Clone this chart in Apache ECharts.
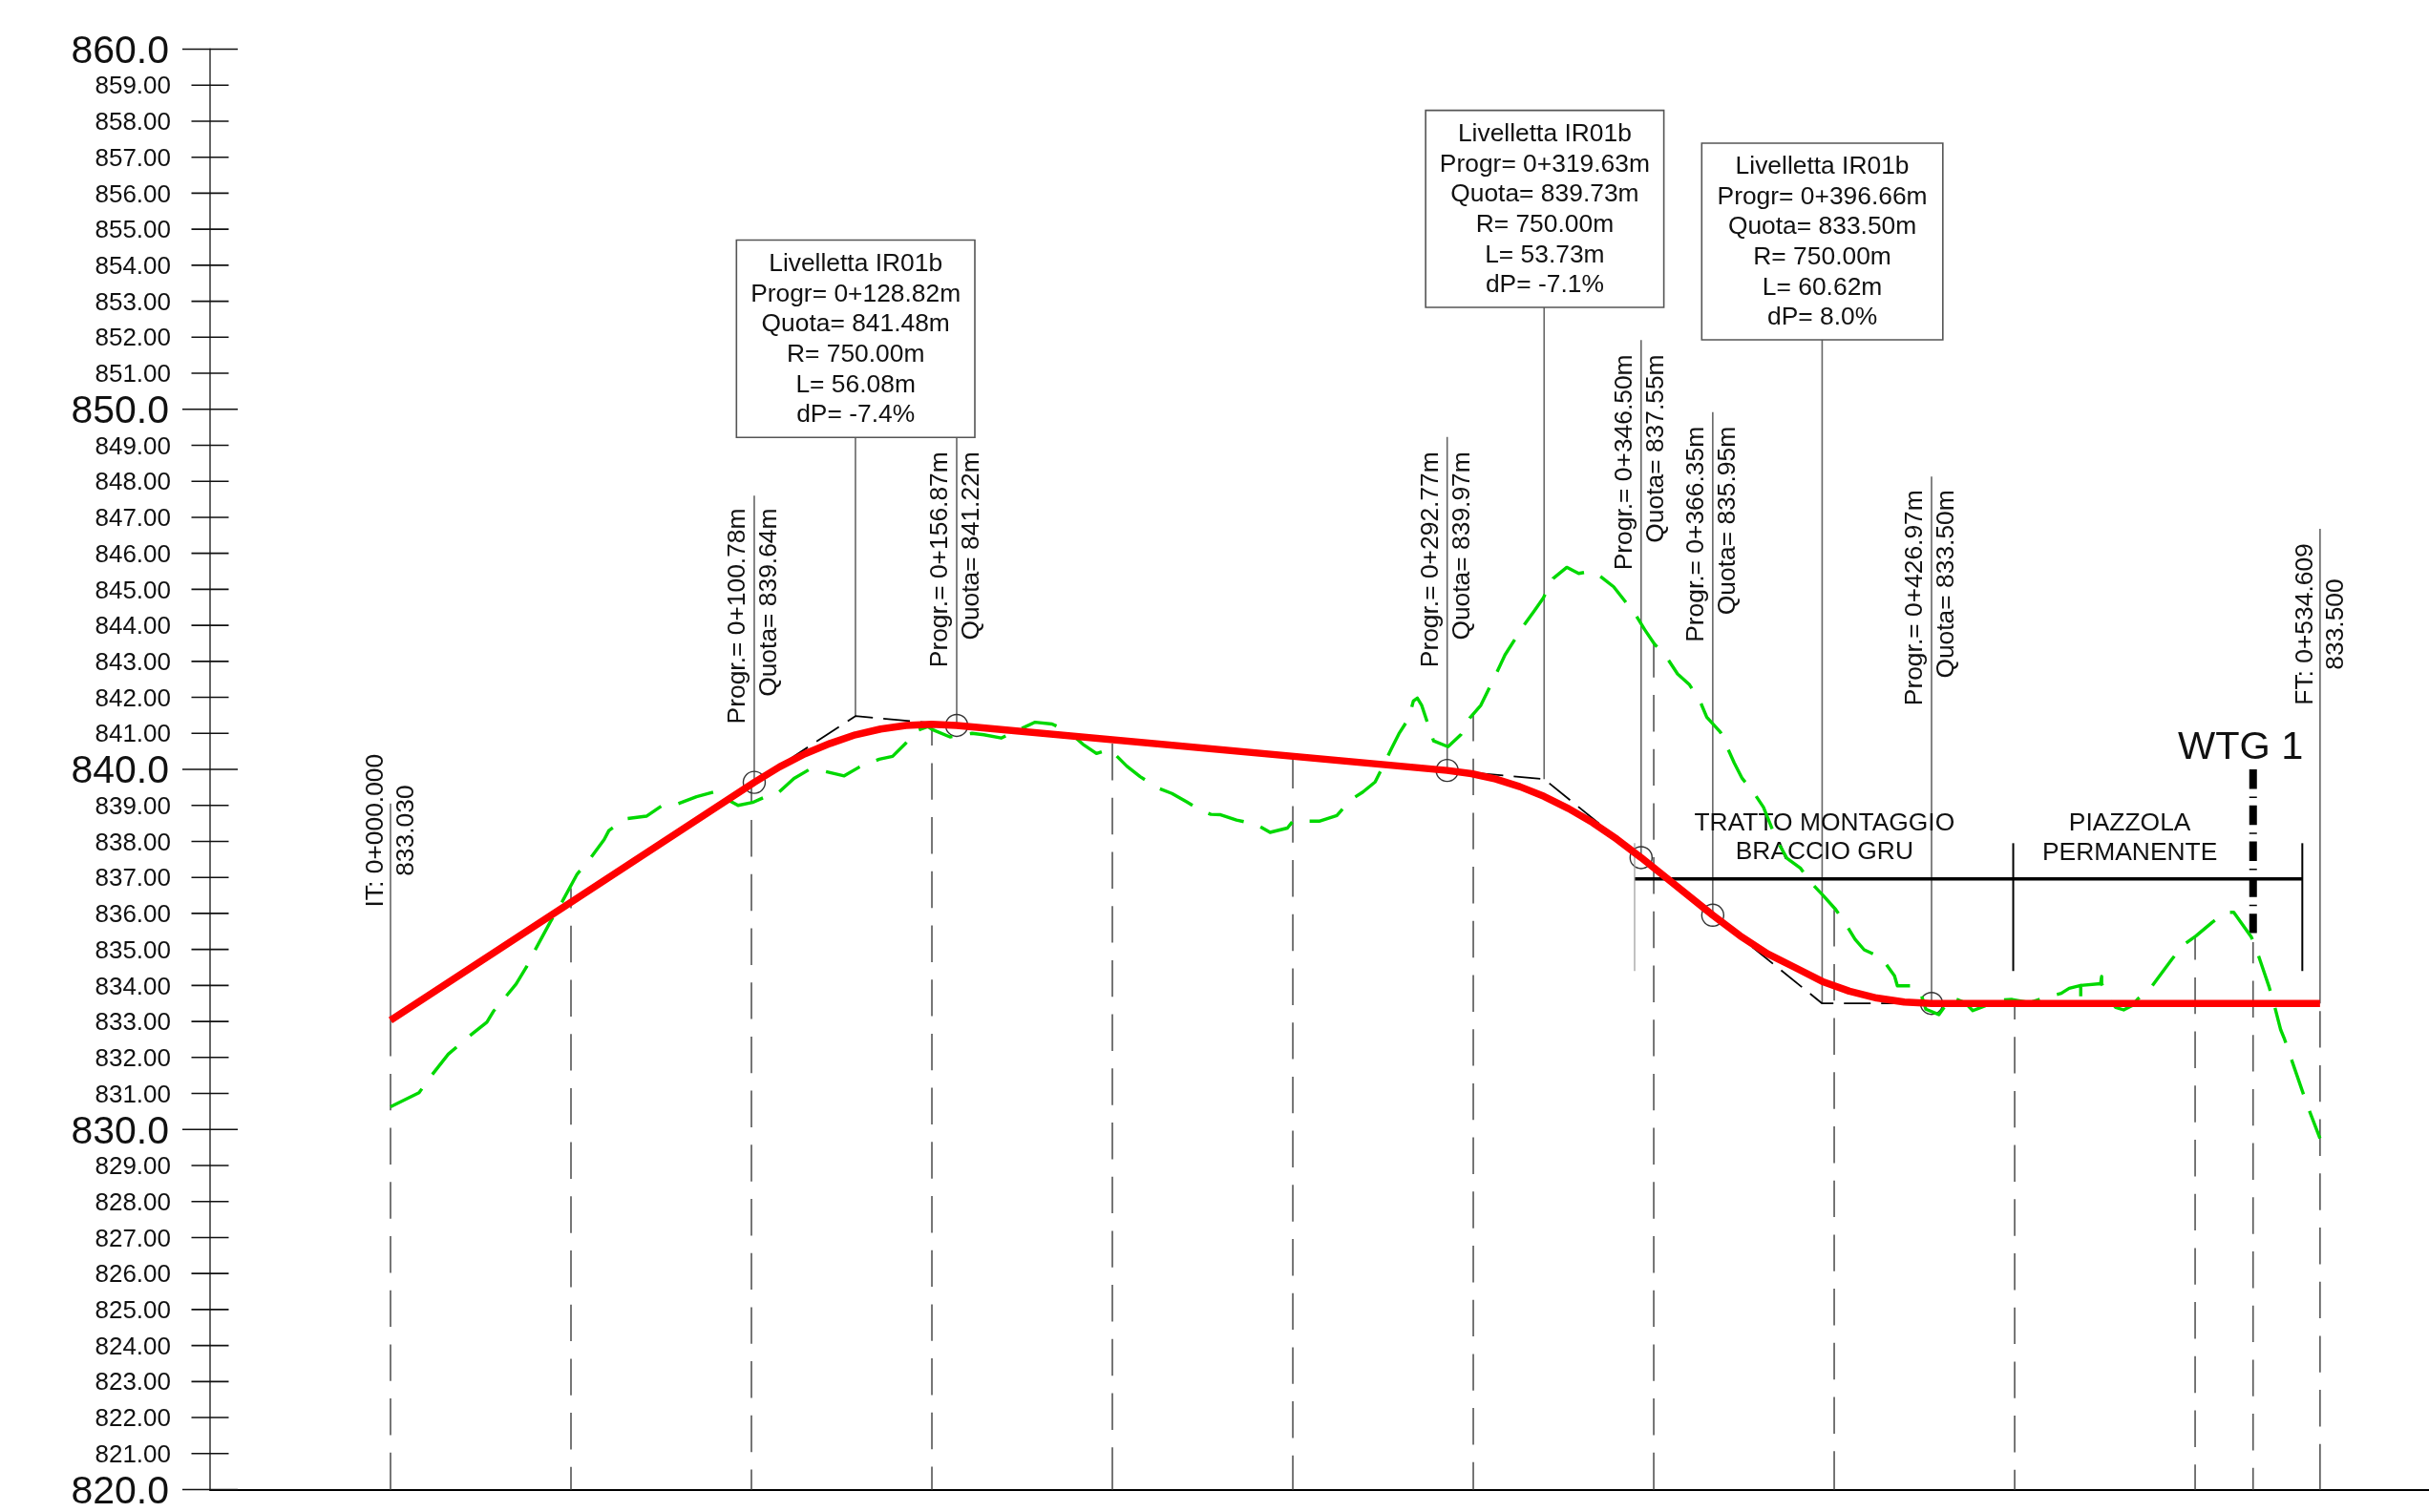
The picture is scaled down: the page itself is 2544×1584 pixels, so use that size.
<!DOCTYPE html>
<html>
<head>
<meta charset="utf-8">
<style>html,body{margin:0;padding:0;background:#fff}#c{width:2544px;height:1584px}</style>
<script src="https://cdn.jsdelivr.net/npm/echarts@6/dist/echarts.min.js"></script>
</head>
<body>
<div id="c"></div>
<script>
// ---- values ----
const groundStations = [0,7.9,11.2,16,21.3,26.7,28.5,32.1,34.8,37.6,39.6,44.3,47,51.7,55.1,59.2,60.5,65.2,70.9,75.3,78.7,84.8,89.5,92.8,96.3,100.3,103.7,107.1,111.8,116.1,120.6,125.7,130,135.4,139.1,142.8,145.5,148.9,150,155,161.1,164.4,169.2,173.9,178.6,183.3,188,191.8,195.6,198.9,200,204,207.7,212.4,216.5,220.7,224.7,227.3,230,234.4,239.7,243.7,248.5,250,253.4,257.3,262.2,266.1,269.4,272.8,275,277.2,279.4,282.1,283.4,284.5,285.7,289,293,296.6,299,302.1,306.7,308.8,314,316.9,319.4,322.1,325.9,329.2,332.4,334.7,338.9,345,347.5,350.2,353.9,356.6,359.9,362.8,364.7,368.5,370.2,372.3,374.5,377.6,380.4,384,386.9,390.7,393.4,397,400.4,403.1,405.8,408.3,412.4,413.8,416.7,417.5,422.5,424,425.4,429,432.5,436.3,438.4,441.7,443.5,449.3,454.2,458.5,462.9,465.1,468.3,468.3,468.3,473.8,474.1,474.1,475.9,478,480.2,482.4,484,487.9,493.6,496.6,500.2,504.7,508.5,510.7,515.6,517.2,520.5,522.1,523.7,524.8,526.4,529.7,531.3,534.6];
const groundElevations = [830.63,831.02,831.48,832.09,832.55,832.98,833.28,833.71,834.04,834.5,834.9,835.77,836.22,837.09,837.49,838.05,838.3,838.63,838.7,839,839.01,839.24,839.37,839.19,839,839.08,839.23,839.32,839.75,840,839.94,839.82,840.07,840.28,840.36,840.73,841.06,841.19,841.11,840.9,841,840.96,840.87,841.09,841.31,841.26,841.04,840.7,840.44,840.55,840.49,840.09,839.8,839.49,839.33,839.09,838.85,838.75,838.74,838.59,838.48,838.25,838.37,838.56,838.56,838.56,838.72,839.16,839.37,839.65,840.09,840.55,840.99,841.41,841.9,841.98,841.78,840.79,840.63,840.97,841.42,841.78,842.73,843.18,844,844.4,844.76,845.3,845.61,845.44,845.5,845.4,845.07,844.29,843.88,843.48,843.06,842.65,842.35,841.9,841.45,841.03,840.65,840.18,839.75,839.37,838.95,838.05,837.53,837.25,836.87,836.49,836.11,835.72,835.28,834.99,834.8,834.67,834.27,833.99,833.99,833.78,833.34,833.19,833.67,833.52,833.3,833.43,833.58,833.61,833.52,833.67,833.78,833.92,834,833.6,834,834.05,834.25,834.05,833.65,833.39,833.32,833.43,833.61,833.96,834.73,835.11,835.37,835.75,836.03,836.03,835.34,834.93,833.96,833.39,832.77,832.5,832.03,831.07,830.61,829.75];

const designStations = [0,100.78,107.8,114.8,121.8,128.8,135.8,142.8,149.9,156.87,292.77,299.5,306.2,312.9,319.6,326.4,333.1,339.8,346.5,366.35,373.9,381.5,389.1,396.7,404.2,411.8,419.4,426.97,534.609];
const designElevations = [833.03,839.64,840.07,840.43,840.72,840.96,841.12,841.22,841.25,841.22,839.97,839.88,839.73,839.52,839.25,838.91,838.52,838.06,837.55,835.95,835.38,834.88,834.5,834.11,833.84,833.65,833.54,833.5,833.5];

const tangentStations = [100.78,128.82,156.87,292.77,319.63,346.5,366.35,396.66,426.97];
const tangentElevations = [839.64,841.48,841.22,839.97,839.73,837.55,835.95,833.5,833.5];

const pointStations = [100.78,156.87,292.77,346.5,366.35,426.97];
const pointQuotas = [839.64,841.22,839.97,837.55,835.95,833.5];

const calloutStations = [128.82,319.63,396.66];
const calloutQuotas = [841.48,839.73,833.5];
const calloutRadii = [750,750,750];
const calloutLengths = [56.08,53.73,60.62];
const calloutSlopes = ['-7.4%','-7.1%','8.0%'];

const startLabels = ['IT: 0+000.000','833.030'];
const endLabels = ['FT: 0+534.609','833.500'];
const startStation = 0, startElevation = 833.03;
const endStation = 534.609, endElevation = 833.5;

const gridStations = [0,50,100,150,200,250,300,350,400,450,500,516.06,534.609];
const gridTops = [833.03,836.7,839.64,841.2,840.76,840.3,841.5,843.48,836.11,833.6,835.37,835.2,833.5];

// ---- layout (separate from the values) ----
const gridFirstDash = [38.7,23.7,21,24,44.3,35.7,28.7,38.7,40.3,20.7,26.3,22.7,47.7];
const pointLeaderTops = [847.6,849.22,849.23,851.92,849.92,848.13];
const pointTextTops = [847.25,848.82,848.82,851.52,849.52,847.76];
const calloutLeaderTops = [849.22,852.83,851.93];
const calloutLeft = [95.85,286.8,363.3], calloutRight = [161.9,352.8,430.1];
const calloutTop = [854.7,858.3,857.39], calloutBottom = [849.22,852.83,851.93];
const startLeaderTop = 839.05, endLeaderTop = 846.68;
const startTextCenter = 838.3, endTextCenter = 844.03;

const sectionLine = {from:344.7, to:529.7, elevation:836.96};
const sectionTicks = [344.7,449.6,529.7];
const sectionTickTop = 837.95, sectionTickBottom = 834.4;
const sectionTexts = [
  {lines:['TRATTO MONTAGGIO','BRACCIO GRU'], station:397.3, elevations:[838.55,837.75]},
  {lines:['PIAZZOLA','PERMANENTE'], station:481.9, elevations:[838.55,837.72]}
];
const wtgLabel = 'WTG 1';
const wtgStation = 516.06, wtgTop = 840.0, wtgBottom = 835.44;
const wtgLabelStation = 512.6, wtgLabelElevation = 840.66;

const tickValues = [];
for (let v = 820; v <= 860; v++) tickValues.push(v);

const FONT = '"Liberation Sans", Arial, sans-serif';
const INK = '#111';
const TEXT_SIZE = 26.4;
const idx = a => a.map((_, i) => i);

function txt(x, y, text, size, extra) {
  const rotated = extra && extra.rotation;
  return Object.assign({
    type:'text', x: rotated ? x+1 : x, y: rotated ? y : y+2,
    style:{text, fontSize:size, fontFamily:FONT, fill:INK,
      align:(extra&&extra.align)||'center', verticalAlign:'middle'}
  }, rotated?{rotation:extra.rotation}:{});
}
function seg(a, b, style) {
  return {type:'line', shape:{x1:a[0],y1:a[1],x2:b[0],y2:b[1]}, style:Object.assign({fill:null},style)};
}
const GRAY = {stroke:'#666', lineWidth:1.6};

function custom(data, renderItem, z) {
  return {type:'custom', data, renderItem, z, clip:false, silent:true, animation:false};
}
const dashFor = L => { const d=[L,18.3]; for(let i=0;i<40;i++){d.push(38.4,18.3);} return d; };

const chart = echarts.init(document.getElementById('c'), null, {renderer:'canvas', width:2544, height:1584});
chart.setOption({
  animation:false,
  backgroundColor:'#fff',
  grid:{left:220, top:51.5, right:0, height:1512.2, containLabel:false},
  xAxis:{type:'value', min:-50, max:564.8, interval:50,
    axisLine:{show:true, onZero:false, lineStyle:{color:'#000', width:2}},
    axisTick:{show:false}, axisLabel:{show:false}, splitLine:{show:false}},
  yAxis:{type:'value', min:820, max:860, interval:1,
    axisLine:{show:true, onZero:false, lineStyle:{color:'#666', width:2}},
    axisTick:{show:false}, splitLine:{show:false},
    axisLabel:{margin:41, hideOverlap:false, showMinLabel:true, showMaxLabel:true,
      formatter:v => v%10===0 ? '{maj|'+v.toFixed(1)+'}' : '{min|'+v.toFixed(2)+'}',
      rich:{maj:{fontSize:41, fontFamily:FONT, color:INK, padding:[6,2,0,0]},
            min:{fontSize:26, fontFamily:FONT, color:INK, padding:[4,0,0,0]}}}},
  series:[
    // axis ticks crossing the axis line
    custom(tickValues, (p, api) => {
      const v = tickValues[p.dataIndex], c = api.coord([-50, v]), maj = v%10===0;
      return seg([c[0]-(maj?29:19.5),c[1]], [c[0]+(maj?29:19.5),c[1]], {stroke:'#111', lineWidth:1.6});
    }, 3),
    // dashed station verticals, phase
    custom(idx(gridStations), (p, api) => {
      const i = p.dataIndex, a = api.coord([gridStations[i],820]), b = api.coord([gridStations[i],gridTops[i]]);
      return seg(a, b, {stroke:'#555', lineWidth:1.6, lineDash:dashFor(gridFirstDash[i])});
    }, 2),
    // solid leaders
    custom(idx(pointStations), (p, api) => {
      const i = p.dataIndex;
      return seg(api.coord([pointStations[i],pointQuotas[i]]), api.coord([pointStations[i],pointLeaderTops[i]]), GRAY);
    }, 2),
    custom(idx(calloutStations), (p, api) => {
      const i = p.dataIndex;
      return seg(api.coord([calloutStations[i],calloutQuotas[i]]), api.coord([calloutStations[i],calloutLeaderTops[i]]), GRAY);
    }, 2),
    custom([0,1], (p, api) => {
      return p.dataIndex===0
        ? seg(api.coord([startStation,startElevation]), api.coord([startStation,startLeaderTop]), GRAY)
        : seg(api.coord([endStation,endElevation]), api.coord([endStation,endLeaderTop]), GRAY);
    }, 2),
    // circles on the tangent points
    custom(idx(pointStations), (p, api) => {
      const i = p.dataIndex, c = api.coord([pointStations[i],pointQuotas[i]]);
      return {type:'circle', shape:{cx:c[0],cy:c[1],r:11.5}, style:{fill:null, stroke:'#333', lineWidth:1.4}};
    }, 2),
    // section line
    custom([0], (p, api) => seg(api.coord([sectionLine.from,sectionLine.elevation]), api.coord([sectionLine.to,sectionLine.elevation]), {stroke:'#000', lineWidth:3.5}), 3),
    custom(idx(sectionTicks), (p, api) => {
      const i = p.dataIndex;
      return seg(api.coord([sectionTicks[i],sectionTickTop]), api.coord([sectionTicks[i],sectionTickBottom]),
        i===0 ? {stroke:'#999', lineWidth:1.2} : {stroke:'#000', lineWidth:2});
    }, 3),
    // turbine axis
    custom([0], (p, api) => seg(api.coord([wtgStation,wtgTop]), api.coord([wtgStation,wtgBottom]),
      {stroke:'#000', lineWidth:8, lineDash:[20.4,8,1.5,7.9]}), 3),
    // tangent polyline
    {type:'line', data:tangentStations.map((s,i)=>[s,tangentElevations[i]]), showSymbol:false, z:4, silent:true,
      lineStyle:{color:'#000', width:1.8, type:[28,11]}},
    // ground
    {type:'line', data:groundStations.map((s,i)=>[s,groundElevations[i]]), showSymbol:false, z:5, silent:true,
      lineStyle:{color:'#00d800', width:3.4, type:[38.4,18.6], cap:'butt', join:'round'}},
    // design profile
    {type:'line', data:designStations.map((s,i)=>[s,designElevations[i]]), showSymbol:false, z:6, silent:true,
      lineStyle:{color:'#ff0000', width:7.5, cap:'butt', join:'round'}},
    // callout boxes
    custom(idx(calloutStations), (p, api) => {
      const i = p.dataIndex, a = api.coord([calloutLeft[i],calloutTop[i]]), b = api.coord([calloutRight[i],calloutBottom[i]]);
      const rows = ['Livelletta IR01b',
        'Progr= 0+'+calloutStations[i].toFixed(2)+'m',
        'Quota= '+calloutQuotas[i].toFixed(2)+'m',
        'R= '+calloutRadii[i].toFixed(2)+'m',
        'L= '+calloutLengths[i].toFixed(2)+'m',
        'dP= '+calloutSlopes[i]];
      const cx = (a[0]+b[0])/2, cy = (a[1]+b[1])/2;
      return {type:'group', children:[
        {type:'rect', shape:{x:a[0],y:a[1],width:b[0]-a[0],height:b[1]-a[1]}, style:{fill:'#fff', stroke:'#555', lineWidth:1.6}}
      ].concat(rows.map((r,k)=>txt(cx, cy+(k-2.5)*31.7-1, r, TEXT_SIZE)))};
    }, 7),
    // rotated point labels
    custom(idx(pointStations), (p, api) => {
      const i = p.dataIndex, c = api.coord([pointStations[i],pointTextTops[i]]);
      return {type:'group', children:[
        txt(c[0]-18, c[1], 'Progr.= 0+'+pointStations[i].toFixed(2)+'m', TEXT_SIZE, {rotation:Math.PI/2, align:'right'}),
        txt(c[0]+15, c[1], 'Quota= '+pointQuotas[i].toFixed(2)+'m', TEXT_SIZE, {rotation:Math.PI/2, align:'right'})
      ]};
    }, 7),
    // start and end labels
    custom([0,1], (p, api) => {
      const s = p.dataIndex===0?startStation:endStation, e = p.dataIndex===0?startTextCenter:endTextCenter;
      const l = p.dataIndex===0?startLabels:endLabels, c = api.coord([s,e]);
      return {type:'group', children:[
        txt(c[0]-16, c[1], l[0], TEXT_SIZE, {rotation:Math.PI/2}),
        txt(c[0]+16, c[1], l[1], TEXT_SIZE, {rotation:Math.PI/2})
      ]};
    }, 7),
    // section captions
    custom(idx(sectionTexts), (p, api) => {
      const t = sectionTexts[p.dataIndex];
      return {type:'group', children:t.lines.map((l,k)=>{
        const c = api.coord([t.station,t.elevations[k]]);
        return txt(c[0], c[1], l, TEXT_SIZE);
      })};
    }, 4),
    custom([0], (p, api) => {
      const c = api.coord([wtgLabelStation,wtgLabelElevation]);
      return txt(c[0], c[1], wtgLabel, 41.5);
    }, 7)
  ]
});
</script>
</body>
</html>
